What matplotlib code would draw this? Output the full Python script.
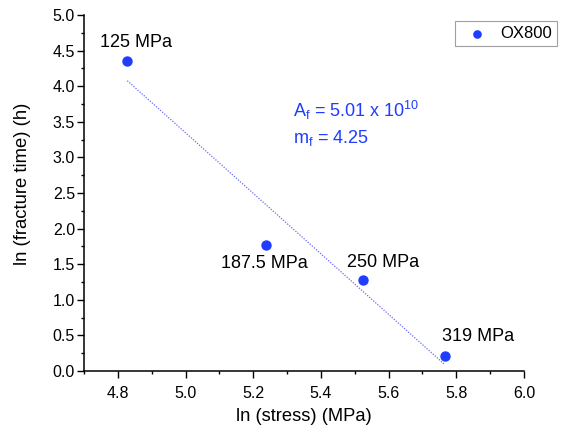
import matplotlib.pyplot as plt
import numpy as np

plt.rcParams['font.family'] = ['Liberation Sans', 'DejaVu Sans']

# data
ln_stress = [4.828, 5.237, 5.524, 5.767]
ln_time = [4.36, 1.775, 1.275, 0.215]
labels = ['125 MPa', '187.5 MPa', '250 MPa', '319 MPa']
label_pos = [(4.854, 4.607), (5.233, 1.503), (5.583, 1.527), (5.865, 0.49)]
fit_x = [4.828, 5.765]
fit_y = [4.077, 0.094]

fig = plt.figure(figsize=(5.62, 4.25), dpi=100)
ax = fig.add_axes([84/562, 1-371/425, (524-84)/562, (371-15)/425])

ax.plot(fit_x, fit_y, ls=(0, (1, 1.2)), lw=0.9, color='#6a6af5')
ax.scatter(ln_stress, ln_time, s=42, color='#1f3cff', zorder=3, label='OX800')

for t, (x, y) in zip(labels, label_pos):
    ax.text(x, y, t, ha='center', va='center', fontsize=13)

ax.text(5.317, 3.666, r'A$_\mathregular{f}$ = 5.01 x 10$^\mathregular{10}$',
        color='#1f3cff', fontsize=13, va='center')
ax.text(5.317, 3.27, r'm$_\mathregular{f}$ = 4.25', color='#1f3cff', fontsize=13, va='center')

ax.set_xlim(4.7, 6.0)
ax.set_ylim(0, 5.0)
ax.set_xticks(np.arange(4.8, 6.01, 0.2))
ax.set_xticks(np.arange(4.7, 6.0, 0.2), minor=True)
ax.set_yticks(np.arange(0, 5.01, 0.5))
ax.set_yticks(np.arange(0.25, 5.0, 0.5), minor=True)
ax.xaxis.set_major_formatter(plt.FormatStrFormatter('%.1f'))
ax.yaxis.set_major_formatter(plt.FormatStrFormatter('%.1f'))
ax.tick_params(which='major', length=5, width=1, labelsize=11.5)
ax.tick_params(which='minor', length=2.4, width=1)
ax.tick_params(axis='x', which='major', pad=5.5)
ax.tick_params(axis='y', which='major', pad=1.5)
for s in ['top', 'right']:
    ax.spines[s].set_visible(False)
for s in ['left', 'bottom']:
    ax.spines[s].set_linewidth(1.1)

ax.set_xlabel('ln (stress) (MPa)', fontsize=13.2, labelpad=5.5)
ax.set_ylabel('ln (fracture time) (h)', fontsize=13.3, labelpad=10)
ax.yaxis.set_label_coords(-0.12, 0.525)

leg = fig.legend(loc='upper right', bbox_to_anchor=(557/562, 1-21/425), fontsize=12,
                 fancybox=False, edgecolor='#888888', handlelength=2.0,
                 handletextpad=0.4, borderpad=0.3, borderaxespad=0, markerscale=0.8)
leg.get_frame().set_linewidth(0.8)

fig.savefig('out.png', dpi=100)
